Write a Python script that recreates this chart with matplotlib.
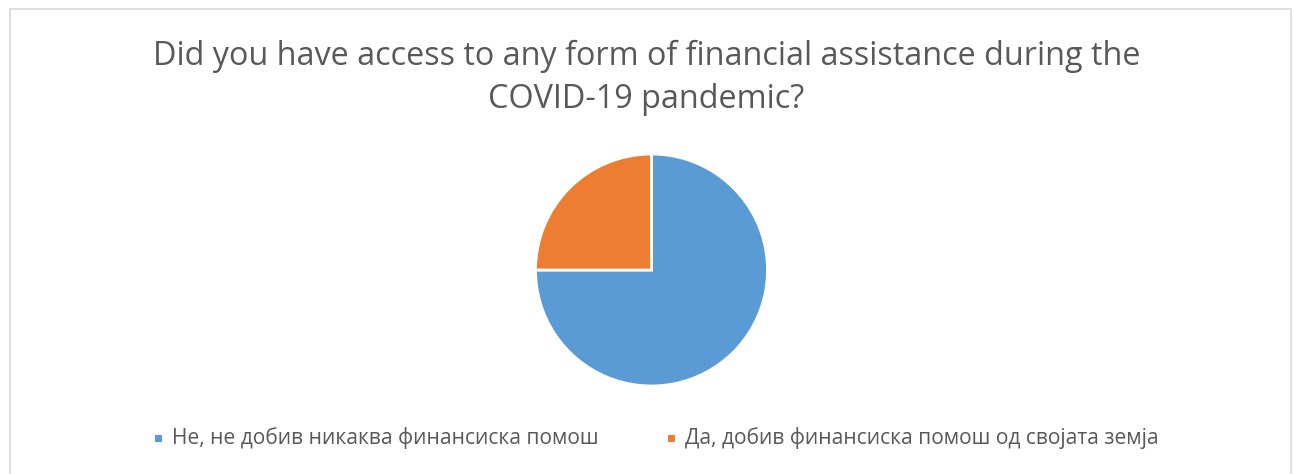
import matplotlib.pyplot as plt
from matplotlib.patches import Rectangle

# Survey answers and their shares
labels = ["Не, не добив никаква финансиска помош",
          "Да, добив финансиска помош од својата земја"]
shares = [75, 25]
colors = ["#5B9BD5", "#ED7D31"]

title = "Did you have access to any form of financial assistance during the\nCOVID-19 pandemic?"

plt.rcParams['font.family'] = ['Open Sans', 'DejaVu Sans']
text_gray = "#595959"

fig = plt.figure(figsize=(12.93, 4.74), dpi=100)

# chart frame
fig.patches.append(Rectangle((10 / 1293, -0.05), 1281 / 1293, 1.05 - 9 / 474,
                             transform=fig.transFigure, fill=False,
                             edgecolor="#D9D9D9", linewidth=1.2))

fig.text(0.5, 1 - 78 / 474, title, ha="center", va="center", fontsize=23.3,
         color=text_gray, linespacing=1.4)

# pie area: center (651.5, 270), radius ~116 px
r = 116
ax = fig.add_axes([(651.5 - r) / 1293, 1 - (270 + r) / 474, 2 * r / 1293, 2 * r / 474])
ax.pie(shares, colors=colors, startangle=90, counterclock=False,
       wedgeprops=dict(edgecolor="white", linewidth=2))
ax.set_aspect("auto")
ax.set_xlim(-1, 1)
ax.set_ylim(-1, 1)

# legend
legend_x = [155, 668]
for x, lab, col in zip(legend_x, labels, colors):
    fig.patches.append(Rectangle((x / 1293, 1 - 442 / 474), 7 / 1293, 7 / 474,
                                 transform=fig.transFigure, facecolor=col,
                                 edgecolor="none"))
    fig.text((x + 17) / 1293, 1 - 438 / 474, lab, ha="left", va="center",
             fontsize=15.1, color=text_gray)

fig.savefig("out.png", dpi=100)
